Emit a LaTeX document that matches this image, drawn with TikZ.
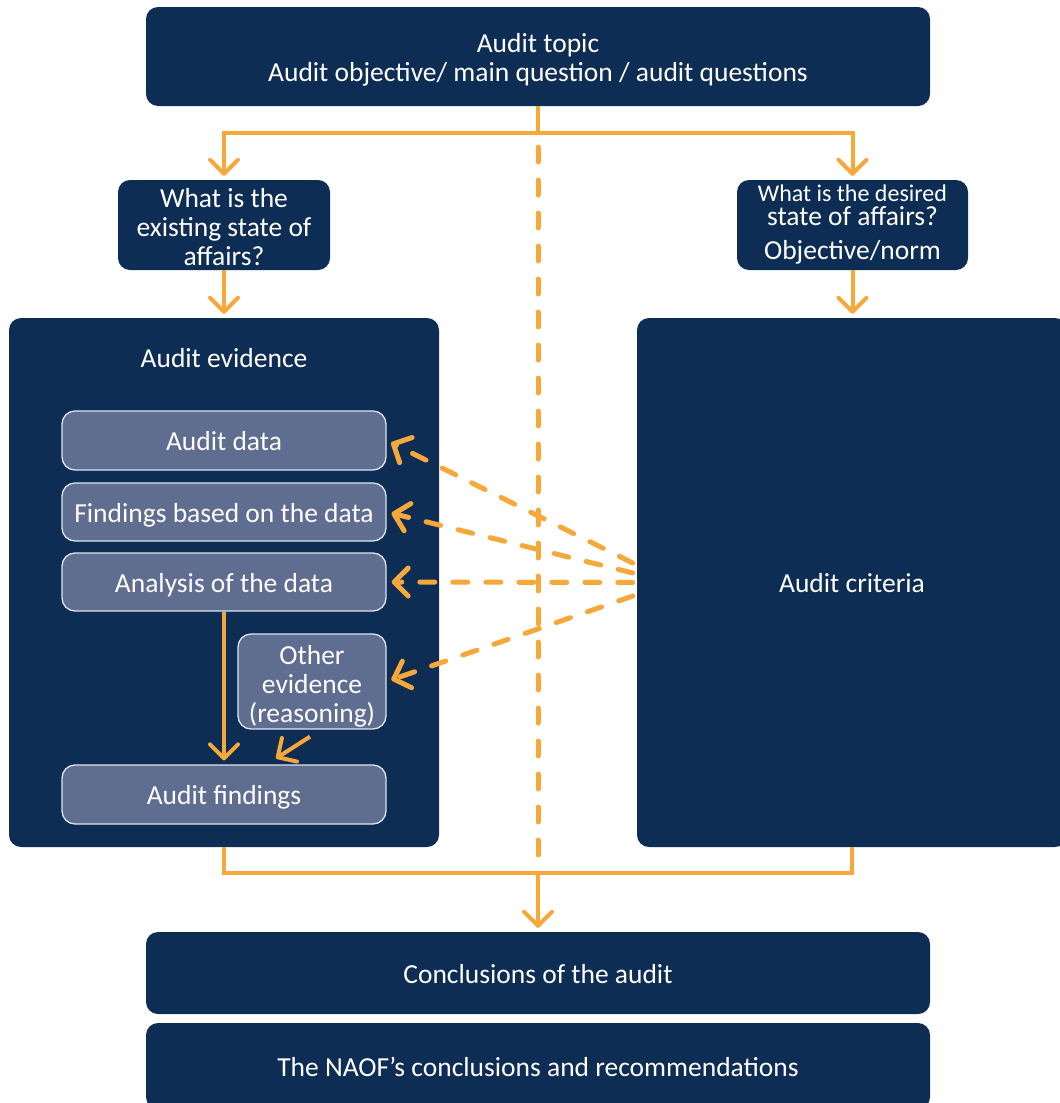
\documentclass[tikz,border=0pt]{standalone}
\usepackage{fontspec}
\setmainfont{Carlito}
\usetikzlibrary{arrows.meta,calc}
\definecolor{navy}{RGB}{14,45,84}
\definecolor{slate}{RGB}{95,109,145}
\definecolor{edge}{RGB}{222,227,236}
\definecolor{amber}{RGB}{247,168,59}
\begin{document}
\begin{tikzpicture}[x=1pt,y=-1pt,
  box/.style={fill=navy, rounded corners=12pt, text=white, align=center, inner sep=0pt,
    font=\fontsize{27.5}{29}\selectfont},
  sub/.style={fill=slate, draw=edge, line width=1.3pt, rounded corners=13pt, text=white,
    align=center, inner sep=0pt, font=\fontsize{27.5}{29}\selectfont},
  txt/.style={text=white, align=center, inner sep=0pt, font=\fontsize{27.5}{29}\selectfont},
  one/.style={text height=20pt, text depth=0pt},
  link/.style={draw=amber, line width=4pt},
  tip/.style={-{Straight Barb[length=14pt,width=28pt,round]}},
  dlink/.style={draw=amber, line width=5pt, line cap=round, dash pattern=on 15pt off 18pt},
]
\useasboundingbox (0,0) rectangle (1060,1103);
\clip (0,0) rectangle (1060,1103);

% top box
\node[box, minimum width=784pt, minimum height=99pt] (topic) at (538,56.5) {};
\node[txt] (topictext) at (538,60)
  {Audit topic\\Audit objective/ main question / audit questions};

% the two questions
\node[box, minimum width=212pt, minimum height=90pt] (exist) at (224,225) {};
\node[txt] (existtext) at (224,227) {What is the\\existing state of\\affairs?};
\node[box, minimum width=231pt, minimum height=90pt] (desired) at (852.5,225) {};
\node[txt] (desiredtext) at (852.5,225)
  {\fontsize{24}{23}\selectfont What is the desired\\[-5pt]state of affairs?\\[5pt]
   \fontsize{27.5}{29}\selectfont Objective/norm};

% evidence and criteria panels
\node[box, minimum width=430pt, minimum height=529pt] (evidence) at (224,582.5) {};
\node[txt, one] (evlabel) at (224,357) {Audit evidence};
\node[box, one, minimum width=430pt, minimum height=529pt] (criteria) at (852,582.5) {Audit criteria};

% inner evidence steps
\node[sub, one, minimum width=324pt, minimum height=59pt] (adata) at (224,440.5) {Audit data};
\node[sub, one, minimum width=324pt, minimum height=58pt] (fdata) at (224,512) {Findings based on the data};
\node[sub, one, minimum width=324pt, minimum height=58pt] (analysis) at (224,582) {Analysis of the data};
\node[sub, minimum width=148pt, minimum height=95pt] (other) at (312,681.5) {};
\node[txt] (othertext) at (312,686.5) {Other\\evidence\\(reasoning)};
\node[sub, one, minimum width=324pt, minimum height=59pt] (afind) at (224,794.5) {Audit findings};

% conclusions
\node[box, one, minimum width=784pt, minimum height=82pt] (concl) at (538,973) {Conclusions of the audit};
\node[box, one, minimum width=784pt, minimum height=86pt] (naof) at (538,1066)
  {The NAOF’s conclusions and recommendations};

% branching from the topic
\coordinate (split) at (538,133);
\coordinate (merge) at (538,873);
\draw[link] (topic.south) -- (split);
\draw[link, tip, shorten >=4pt] (split) -| (exist.north);
\draw[link, tip, shorten >=4pt] (split) -| (desired.north);
\draw[link, tip, shorten >=4pt] (exist.south) -- (evidence.north);
\draw[link, tip, shorten >=4pt] (desired.south) -- (desired.south |- criteria.north);

% dashed line straight through to the conclusions
\draw[dlink] ($(split)+(0,14)$) -- ($(merge)+(0,-14)$);

% merging into the conclusions
\draw[link] (evidence.south) |- (merge);
\draw[link] (criteria.south) |- (merge);
\draw[link, tip, shorten >=4pt] (merge) -- (concl.north);

% inside the evidence panel
\draw[link, tip, shorten >=4pt] (analysis.south) -- (afind.north);
\draw[link, tip] ($(other.south)+(-2,7)$) -- ($(afind.north)+(52,-6)$);

% criteria applied to the evidence
\draw[dlink, tip, shorten >=5pt] ($(criteria.west)+(-4,-19.5)$) -- (adata.east);
\draw[dlink, tip, shorten >=5pt] ($(criteria.west)+(-4,-9.5)$) -- (fdata.east);
\draw[dlink, tip, shorten >=5pt] ($(criteria.west)+(-4,0)$) -- (analysis.east);
\draw[dlink, tip, shorten >=5pt] ($(criteria.west)+(-4,13.5)$) -- (other.east);
\end{tikzpicture}
\end{document}
